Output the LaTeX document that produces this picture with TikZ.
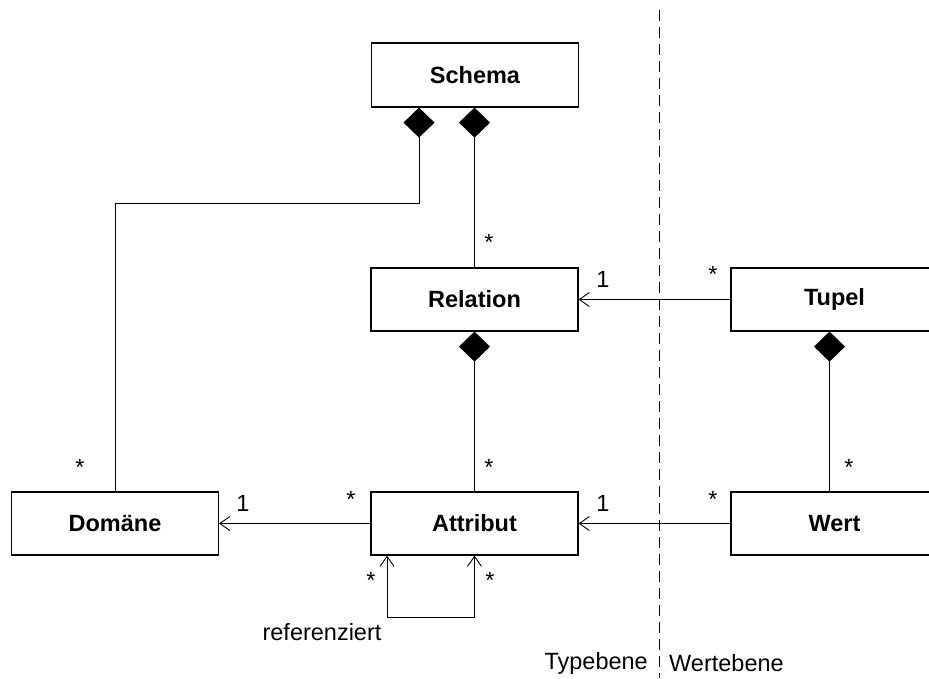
\documentclass[tikz,border=0pt]{standalone}
\usepackage{fontspec}
\setmainfont{Liberation Sans}
\usetikzlibrary{arrows.meta}
\begin{document}
\begin{tikzpicture}[x=1pt,y=-1pt,
  font=\fontsize{23.5}{27}\selectfont,
  cls/.style={draw,line width=1.2pt,minimum width=207pt,minimum height=63pt,inner sep=0pt,font=\fontsize{23.5}{27}\selectfont\bfseries},
  comp/.style={line width=0.9pt,{Diamond[length=30pt,width=31pt]}-},
  nav/.style={line width=0.9pt,-{Straight Barb[length=10pt,width=14pt,line width=0.9pt]}},
  mult/.style={inner sep=0pt},
  layer/.style={dash pattern=on 11pt off 6pt,line width=0.9pt}]
\useasboundingbox (0,0) rectangle (929,678);

% classes
\node[cls,minimum height=64pt] (schema) at (475,75) {Schema};
\node[cls] (relation) at (474.5,299.5) {Relation};
\node[cls] (tupel)    at (834.5,299.5) {Tupel};
\node[cls] (domaene)  at (115,523.5)   {Domäne};
\node[cls] (attribut) at (474.5,523.5) {Attribut};
\node[cls] (wert)     at (834.5,523.5) {Wert};

% layer separator
\coordinate (sepTop) at (659,10);
\coordinate (sepBot) at (659,678);
\draw[layer] (sepTop) -- (sepBot);
\node[anchor=east,inner sep=0pt] (typebene) at (648,663) {Typebene};
\node[anchor=west,inner sep=0pt] (wertebene) at (669,663) {Wertebene};

% compositions
\coordinate (bend) at (115,203);
\draw[comp] ([xshift=-56pt]schema.south) |- (bend) -- (domaene.north);
\draw[comp] (schema.south -| relation.north) -- (relation.north);
\draw[comp] (relation.south) -- (attribut.north);
\draw[comp] ([xshift=-5pt]tupel.south) -- ([xshift=-5pt]wert.north);

% navigable associations
\draw[nav] (tupel.west) -- (relation.east);
\draw[nav] (attribut.west) -- (domaene.east);
\draw[nav] (wert.west) -- (attribut.east);

% self association
\coordinate (loop) at (387,617);
\draw[line width=0.9pt,{Straight Barb[length=10pt,width=14pt,line width=0.9pt]}-{Straight Barb[length=10pt,width=14pt,line width=0.9pt]}]
  (attribut.south -| loop) -- (loop) -| (attribut.south);
\node[inner sep=0pt] (refLabel) at (322,632) {referenziert};

% multiplicities
\node[mult] (m1) at (80,467)  {*};
\node[mult] (m2) at (489,242) {*};
\node[mult] (m3) at (603,279) {1};
\node[mult] (m4) at (713,274) {*};
\node[mult] (m5) at (243,503) {1};
\node[mult] (m6) at (351,499) {*};
\node[mult] (m7) at (489,467) {*};
\node[mult] (m8) at (849,467) {*};
\node[mult] (m9) at (603,503) {1};
\node[mult] (m10) at (713,499) {*};
\node[mult] (m11) at (371,580) {*};
\node[mult] (m12) at (490,580) {*};
\end{tikzpicture}
\end{document}
